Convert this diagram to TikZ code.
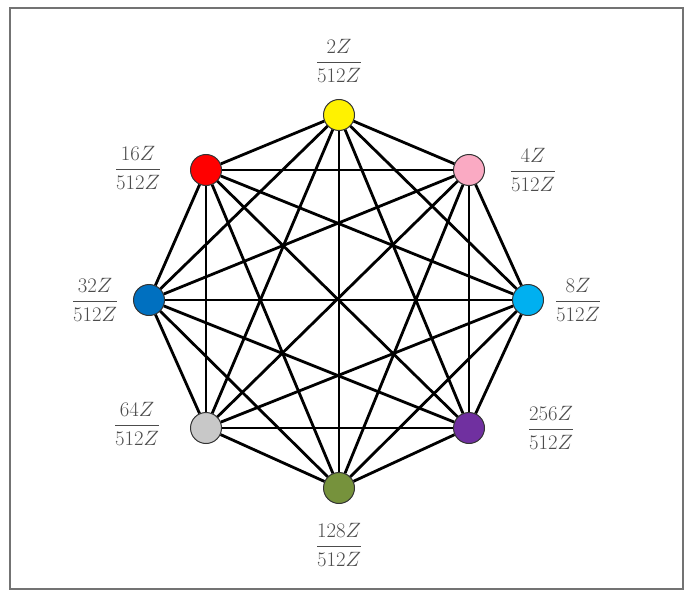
\documentclass[tikz,border=0pt]{standalone}
\usepackage{amsmath}
\begin{document}
\begin{tikzpicture}[x=1pt,y=-1pt,
  vtx/.style={circle,draw=black!80,line width=1pt,minimum size=31pt,inner sep=0pt},
  lbl/.style={text=black!70,font=\fontsize{19.5}{23}\selectfont},
  edge/.style={line width=2.8pt,black}]
\useasboundingbox (0,0) rectangle (685,591);
\draw[line width=2.5pt,black!55] (10,8) rectangle (683,589);
\definecolor{cpink}{RGB}{250,170,195}
\definecolor{ccyan}{RGB}{0,176,240}
\definecolor{cpurple}{RGB}{112,48,160}
\definecolor{cgreen}{RGB}{118,146,60}
\definecolor{cgray}{RGB}{200,200,200}
\definecolor{cblue}{RGB}{0,112,192}
\node[vtx,fill=yellow] (n1) at (339,115) {};
\node[vtx,fill=cpink] (n2) at (469,170) {};
\node[vtx,fill=ccyan] (n3) at (528,300) {};
\node[vtx,fill=cpurple] (n4) at (469,428) {};
\node[vtx,fill=cgreen] (n5) at (339,488) {};
\node[vtx,fill=cgray] (n6) at (206,428) {};
\node[vtx,fill=cblue] (n7) at (149,300) {};
\node[vtx,fill=red] (n8) at (206,170) {};
\foreach \a/\b in {1/2,1/3,1/4,1/5,1/6,1/7,1/8,2/3,2/4,2/5,2/6,2/7,2/8,3/4,3/5,3/6,3/7,3/8,4/5,4/6,4/7,4/8,5/6,5/7,5/8,6/7,6/8,7/8}
  \draw[edge] (n\a) -- (n\b);
\node[lbl] (l1) at (339,61) {$\dfrac{2Z}{512Z}$};
\node[lbl] (l2) at (533,170) {$\dfrac{4Z}{512Z}$};
\node[lbl] (l3) at (578,300) {$\dfrac{8Z}{512Z}$};
\node[lbl] (l4) at (551,428) {$\dfrac{256Z}{512Z}$};
\node[lbl] (l5) at (339,545) {$\dfrac{128Z}{512Z}$};
\node[lbl] (l6) at (137,424) {$\dfrac{64Z}{512Z}$};
\node[lbl] (l7) at (95,300) {$\dfrac{32Z}{512Z}$};
\node[lbl] (l8) at (138,168) {$\dfrac{16Z}{512Z}$};
\end{tikzpicture}
\end{document}
